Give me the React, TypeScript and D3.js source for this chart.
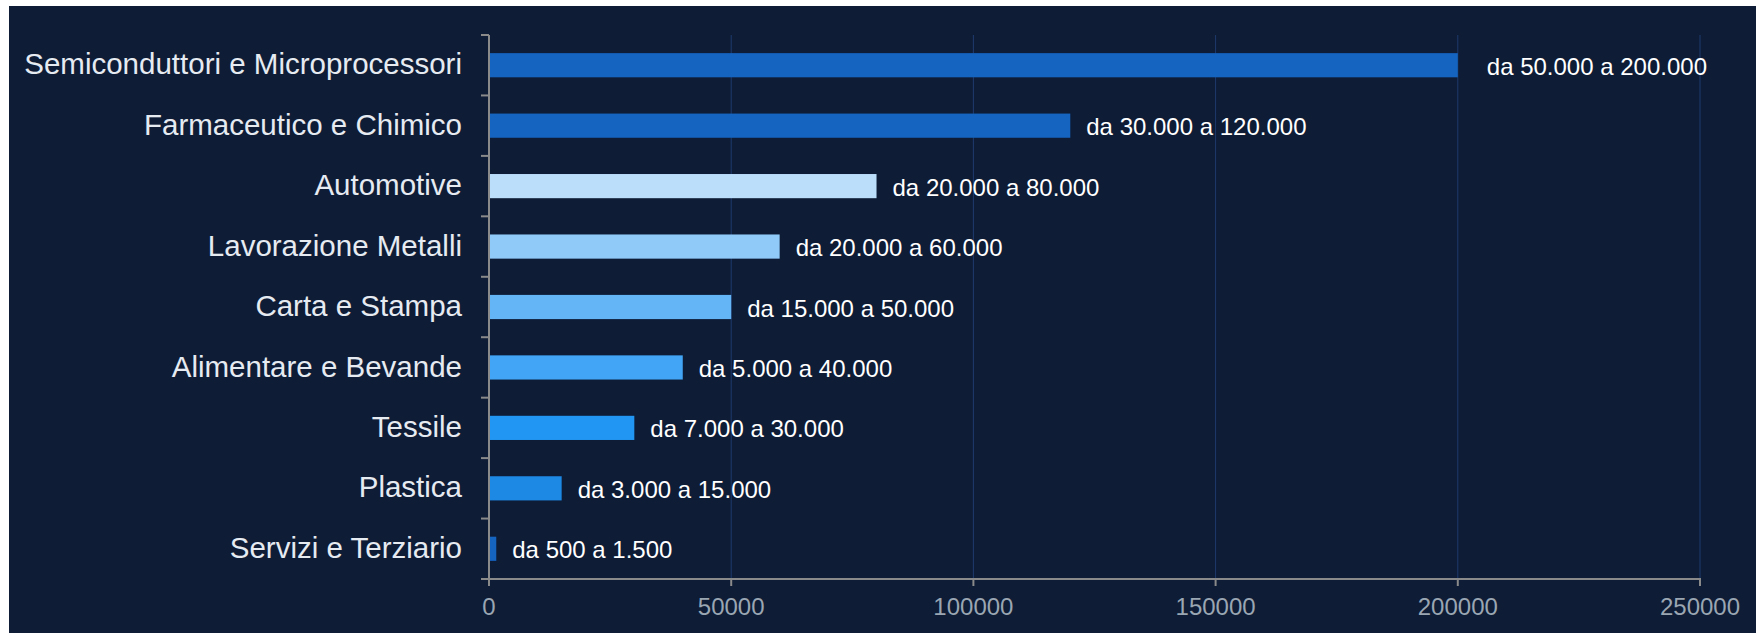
import React from "react";
import * as d3 from "d3";

const categories = [
  "Semiconduttori e Microprocessori",
  "Farmaceutico e Chimico",
  "Automotive",
  "Lavorazione Metalli",
  "Carta e Stampa",
  "Alimentare e Bevande",
  "Tessile",
  "Plastica",
  "Servizi e Terziario",
];
const values = [200000, 120000, 80000, 60000, 50000, 40000, 30000, 15000, 1500];
const valueLabels = [
  "da 50.000 a 200.000",
  "da 30.000 a 120.000",
  "da 20.000 a 80.000",
  "da 20.000 a 60.000",
  "da 15.000 a 50.000",
  "da 5.000 a 40.000",
  "da 7.000 a 30.000",
  "da 3.000 a 15.000",
  "da 500 a 1.500",
];
const xTicks = [0, 50000, 100000, 150000, 200000, 250000];

const barColors = [
  "#1565C0",
  "#1565C0",
  "#BBDEFB",
  "#90CAF9",
  "#64B5F6",
  "#42A5F5",
  "#2196F3",
  "#1E88E5",
  "#1565C0",
];
const labelOffsets = [29, 16, 16, 16, 16, 16, 16, 16, 16];

const W = 1747;
const H = 627;
const OX = 9;
const OY = 6;

export default function App() {
  const left = 489 - OX;
  const right = 1700 - OX;
  const top = 35 - OY;
  const bottom = 579 - OY;

  const x = d3.scaleLinear().domain([0, 250000]).range([left, right]);
  const y = d3.scaleBand<string>().domain(categories).range([top, bottom]).padding(0);
  const bw = y.bandwidth();
  const barH = bw * 0.4;
  const font = "Arial, 'Liberation Sans', sans-serif";

  return (
    <svg
      width={W}
      height={H}
      style={{ position: "absolute", left: OX, top: OY, display: "block" }}
    >
      <rect x={0} y={0} width={W} height={H} fill="#0e1c36" />
      {xTicks.map((t) => (
        <line
          key={"g" + t}
          x1={x(t)}
          x2={x(t)}
          y1={top}
          y2={bottom}
          stroke="#1e3a6e"
          strokeWidth={1}
        />
      ))}
      {categories.map((c, i) => {
        const yc = (y(c) as number) + bw / 2;
        return (
          <g key={c}>
            <rect
              x={x(0)}
              y={yc - barH / 2}
              width={x(values[i]) - x(0)}
              height={barH}
              fill={barColors[i]}
            />
            <text
              x={x(values[i]) + labelOffsets[i]}
              y={yc}
              dy="0.4em"
              fontSize={24}
              fontFamily={font}
              fill="#ffffff"
            >
              {valueLabels[i]}
            </text>
            <text
              x={left - 27}
              y={yc}
              dy="0.31em"
              textAnchor="end"
              fontSize={29.5}
              fontFamily={font}
              fill="#e6ebf2"
            >
              {c}
            </text>
          </g>
        );
      })}
      {/* y axis */}
      <line x1={left} x2={left} y1={top} y2={bottom} stroke="#8a8a8a" strokeWidth={2} />
      {[...categories.map((c) => y(c) as number), bottom].map((ty, i) => (
        <line key={"yt" + i} x1={left - 8} x2={left} y1={ty} y2={ty} stroke="#8a8a8a" strokeWidth={2} />
      ))}
      {/* x axis */}
      <line x1={left - 8} x2={right + 1} y1={bottom} y2={bottom} stroke="#8a8a8a" strokeWidth={2} />
      {xTicks.map((t) => (
        <g key={"xt" + t}>
          <line x1={x(t)} x2={x(t)} y1={bottom} y2={bottom + 7} stroke="#8a8a8a" strokeWidth={2} />
          <text
            x={x(t)}
            y={615 - OY}
            textAnchor="middle"
            fontSize={24}
            fontFamily={font}
            fill="#9aa6b2"
          >
            {t}
          </text>
        </g>
      ))}
    </svg>
  );
}
